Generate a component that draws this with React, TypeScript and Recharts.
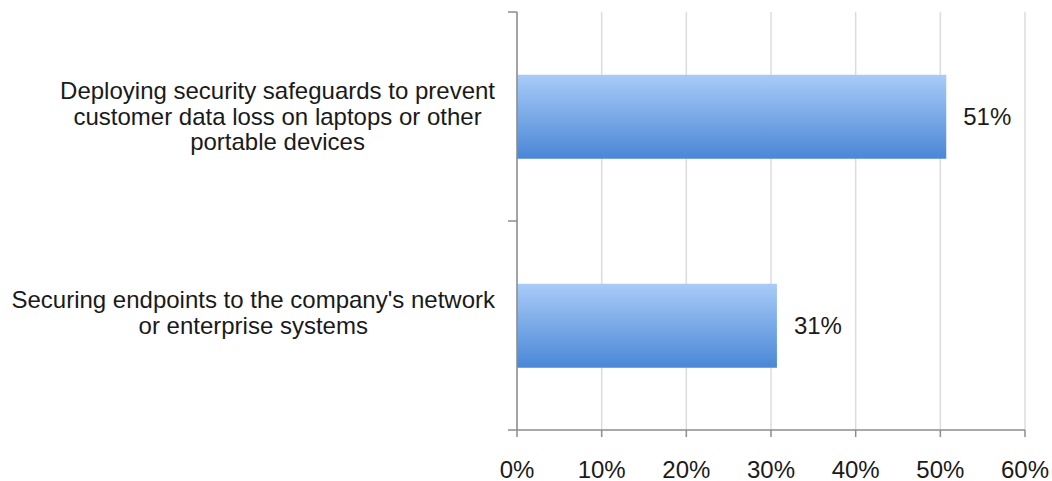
import { BarChart, Bar, XAxis, YAxis, CartesianGrid, LabelList } from "recharts";

const categories = [
  "Deploying security safeguards to prevent\ncustomer data loss on laptops or other\nportable devices",
  "Securing endpoints to the company's network\nor enterprise systems",
];
const shares = [50.7, 30.7];
const shareLabels = ["51%", "31%"];
const xTicks = [0, 10, 20, 30, 40, 50, 60];

const chartData = categories.map((name, i) => ({ name, value: shares[i], label: shareLabels[i] }));

const FONT = "'Liberation Sans', Arial, Helvetica, sans-serif";
const FONT_SIZE = 24;
const W = 1052;
const H = 481;
const MARGIN = { top: 12, right: 27, bottom: 0, left: 0 };
const X_AXIS_H = 51;
const BAND = (H - MARGIN.top - MARGIN.bottom - X_AXIS_H) / categories.length;
const AXIS_GREY = "#8c8c8c";

let canvasCtx: CanvasRenderingContext2D | null = null;
function textWidth(s: string) {
  if (!canvasCtx) canvasCtx = document.createElement("canvas").getContext("2d");
  if (!canvasCtx) return s.length * 12;
  canvasCtx.font = `${FONT_SIZE}px ${FONT}`;
  return canvasCtx.measureText(s).width;
}

// multi-line label, lines centred in a block that sits right-aligned to the axis;
// also draws the tick marks at the band edges (Excel style)
function CategoryTick(props: any) {
  const { x, y, payload, index } = props;
  const axisX = x + 8; // tick x = axis - tickSize(6) - tickMargin(2)
  const lines: string[] = String(payload.value).split("\n");
  const blockW = Math.max(...lines.map(textWidth));
  const cx = axisX - 22 - blockW / 2;
  return (
    <g>
      {index === 0 && (
        <line x1={axisX - 9} x2={axisX} y1={y - BAND / 2} y2={y - BAND / 2} stroke={AXIS_GREY} strokeWidth={1.5} />
      )}
      <line x1={axisX - 9} x2={axisX} y1={y + BAND / 2} y2={y + BAND / 2} stroke={AXIS_GREY} strokeWidth={1.5} />
      {lines.map((line, i) => (
        <text
          key={i}
          x={cx}
          y={y - 26 + i * 25.5}
          textAnchor="middle"
          dominantBaseline="central"
          fontFamily={FONT}
          fontSize={FONT_SIZE}
          fill="#1a1a1a"
        >
          {line}
        </text>
      ))}
    </g>
  );
}

function PercentTick(props: any) {
  const { x, y, payload } = props;
  return (
    <text x={x} y={y + 30} textAnchor="middle" dominantBaseline="central" fontFamily={FONT} fontSize={FONT_SIZE} fill="#1a1a1a">
      {payload.value}%
    </text>
  );
}

export default function App() {
  return (
    <div style={{ position: "absolute", left: 0, top: 0, background: "#fff" }}>
      <BarChart
        width={W}
        height={H}
        data={chartData}
        layout="vertical"
        margin={MARGIN}
        barCategoryGap="30%"
      >
        <defs>
          <linearGradient id="barFill" x1="0" y1="0" x2="0" y2="1">
            <stop offset="0%" stopColor="#a9cbf8" />
            <stop offset="100%" stopColor="#4a87d6" />
          </linearGradient>
        </defs>
        <CartesianGrid horizontal={false} stroke="#dcdcdc" strokeWidth={1.5} />
        <XAxis
          type="number"
          domain={[0, 60]}
          ticks={xTicks}
          interval={0}
          height={X_AXIS_H}
          stroke={AXIS_GREY}
          strokeWidth={1.5}
          tickSize={7}
          tick={<PercentTick />}
        />
        <YAxis
          type="category"
          dataKey="name"
          width={517}
          stroke={AXIS_GREY}
          strokeWidth={1.5}
          tickLine={false}
          tick={<CategoryTick />}
          interval={0}
        />
        <Bar dataKey="value" fill="url(#barFill)" isAnimationActive={false}>
          <LabelList
            dataKey="label"
            position="right"
            offset={17}
            fontFamily={FONT}
            fontSize={FONT_SIZE}
            fill="#1a1a1a"
          />
        </Bar>
      </BarChart>
    </div>
  );
}
